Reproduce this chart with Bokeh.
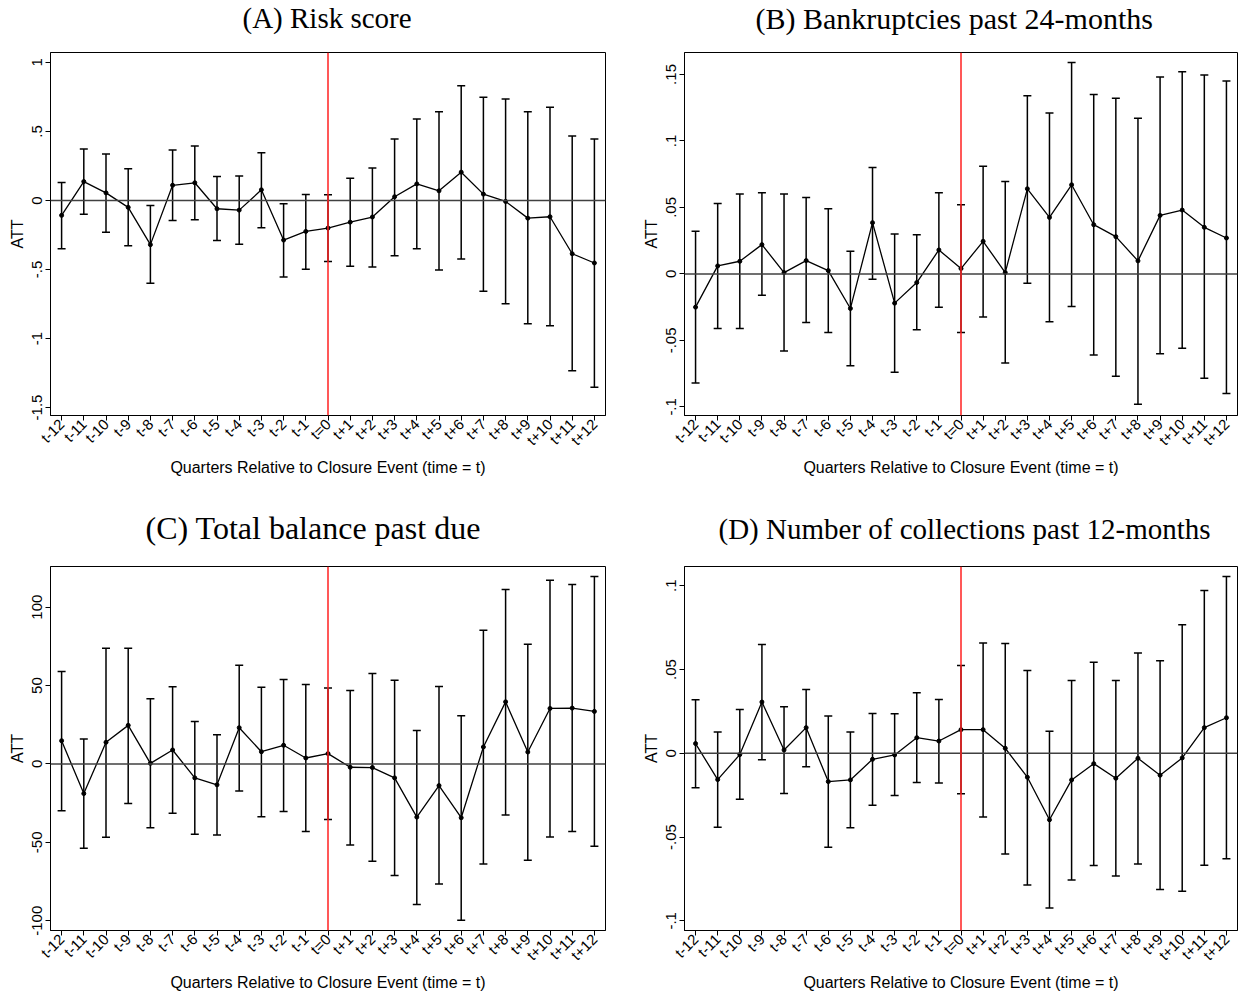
import numpy as np
from bokeh.plotting import figure
from bokeh.models import ColumnDataSource, Whisker, TeeHead, Span, FixedTicker, Range1d, Title
from bokeh.layouts import column, row
from bokeh.embed import file_html
from bokeh.resources import INLINE

# ---------------- data ----------------
quarters = list(range(-12, 13))
quarter_labels = ["t-12", "t-11", "t-10", "t-9", "t-8", "t-7", "t-6", "t-5", "t-4", "t-3", "t-2", "t-1",
                  "t=0", "t+1", "t+2", "t+3", "t+4", "t+5", "t+6", "t+7", "t+8", "t+9", "t+10", "t+11", "t+12"]

# (A) Risk score
risk_att = [-0.108, 0.137, 0.055, -0.050, -0.320, 0.110, 0.128, -0.060, -0.070, 0.077, -0.287, -0.224,
            -0.200, -0.157, -0.120, 0.027, 0.120, 0.070, 0.205, 0.046, -0.007, -0.128, -0.118, -0.386, -0.453]
risk_hi = [0.130, 0.373, 0.337, 0.229, -0.036, 0.366, 0.395, 0.173, 0.178, 0.345, -0.024, 0.043,
           0.041, 0.161, 0.236, 0.446, 0.590, 0.643, 0.831, 0.747, 0.735, 0.643, 0.675, 0.467, 0.446]
risk_lo = [-0.350, -0.100, -0.230, -0.328, -0.600, -0.145, -0.140, -0.290, -0.318, -0.198, -0.554, -0.499,
           -0.443, -0.477, -0.482, -0.400, -0.349, -0.504, -0.424, -0.658, -0.749, -0.894, -0.908, -1.234, -1.354]

# (B) Bankruptcies past 24-months
bank_att = [-0.025, 0.006, 0.0095, 0.022, 0.001, 0.010, 0.0025, -0.026, 0.0385, -0.022, -0.0065, 0.018,
            0.004, 0.0245, 0.001, 0.064, 0.0425, 0.067, 0.037, 0.028, 0.0098, 0.044, 0.048, 0.035, 0.027]
bank_hi = [0.032, 0.053, 0.060, 0.061, 0.060, 0.0575, 0.049, 0.017, 0.080, 0.030, 0.0295, 0.061,
           0.052, 0.081, 0.0695, 0.134, 0.121, 0.159, 0.135, 0.132, 0.117, 0.148, 0.152, 0.1495, 0.145]
bank_lo = [-0.082, -0.041, -0.041, -0.016, -0.058, -0.0365, -0.044, -0.069, -0.004, -0.074, -0.042, -0.025,
           -0.044, -0.0325, -0.067, -0.007, -0.036, -0.0245, -0.061, -0.077, -0.098, -0.060, -0.056, -0.0785, -0.090]

# (C) Total balance past due
bal_att = [14.8, -18.9, 13.8, 24.6, 0.4, 8.9, -8.9, -13.3, 23.1, 7.8, 11.9, 3.8,
           6.6, -2.1, -2.3, -8.9, -33.9, -13.8, -34.3, 10.8, 39.6, 7.6, 35.4, 35.6, 33.5]
bal_hi = [58.9, 15.9, 73.7, 73.7, 41.5, 49.2, 27.1, 18.6, 62.9, 48.9, 53.8, 50.6,
          48.5, 46.8, 57.6, 53.4, 21.4, 49.4, 30.7, 85.2, 111.2, 76.3, 117.2, 114.4, 119.5]
bal_lo = [-29.9, -53.8, -46.8, -25.2, -40.7, -31.4, -44.9, -45.3, -17.2, -33.7, -30.3, -43.0,
          -35.4, -51.7, -62.1, -71.2, -89.6, -76.5, -99.6, -63.8, -32.6, -61.4, -46.6, -43.0, -52.5]

# (D) Number of collections past 12-months
coll_att = [0.0058, -0.0157, -0.0008, 0.0306, 0.0020, 0.0153, -0.0169, -0.0159, -0.0036, -0.0010, 0.0093, 0.0073,
            0.0141, 0.0141, 0.0030, -0.0143, -0.0397, -0.0159, -0.0062, -0.0149, -0.0030, -0.0131, -0.0028, 0.0153, 0.0212]
coll_hi = [0.0320, 0.0127, 0.0262, 0.0650, 0.0278, 0.0380, 0.0222, 0.0127, 0.0238, 0.0236, 0.0361, 0.0321,
           0.0524, 0.0659, 0.0655, 0.0494, 0.0131, 0.0435, 0.0544, 0.0435, 0.0599, 0.0552, 0.0768, 0.0972, 0.1056]
coll_lo = [-0.0206, -0.0442, -0.0274, -0.0038, -0.0240, -0.0081, -0.0561, -0.0444, -0.0310, -0.0252, -0.0175, -0.0177,
           -0.0242, -0.0381, -0.0601, -0.0786, -0.0923, -0.0756, -0.0670, -0.0732, -0.0661, -0.0813, -0.0823, -0.0669, -0.0629]

titles = ["(A) Risk score", "(B) Bankruptcies past 24-months",
          "(C) Total balance past due", "(D) Number of collections past 12-months"]

risk_ticks = [-1.5, -1, -0.5, 0, 0.5, 1]
risk_tick_labels = ["-1.5", "-1", "-.5", "0", ".5", "1"]
bank_ticks = [-0.1, -0.05, 0, 0.05, 0.1, 0.15]
bank_tick_labels = ["-.1", "-.05", "0", ".05", ".1", ".15"]
bal_ticks = [-100, -50, 0, 50, 100]
bal_tick_labels = ["-100", "-50", "0", "50", "100"]
coll_ticks = [-0.1, -0.05, 0, 0.05, 0.1]
coll_tick_labels = ["-.1", "-.05", "0", ".05", ".1"]

x_label = "Quarters Relative to Closure Event (time = t)"
y_label = "ATT"

SANS = "Liberation Sans"
SERIF = "Liberation Serif"


def make_panel(title, att, lo, hi, yr, ticks, tick_labels, width, height, bl, br, bt, bb,
               title_offset, title_size, spacer_size, title_standoff):
    src = ColumnDataSource(dict(x=quarters, y=att, lo=lo, hi=hi))
    p = figure(width=width, height=height, x_range=Range1d(-12.5, 12.5), y_range=Range1d(*yr),
               output_backend="svg", toolbar_location=None,
               min_border_left=bl, min_border_right=br, min_border_top=bt, min_border_bottom=bb)
    p.title.visible = False
    # spacer between frame and title, then the title itself
    p.add_layout(Title(text=" ", text_font_size=spacer_size, text_font=SERIF, standoff=0), "above")
    p.add_layout(Title(text=title, text_font=SERIF, text_font_size=title_size, text_font_style="normal",
                       text_color="black", align="left", offset=title_offset,
                       standoff=title_standoff), "above")

    p.xgrid.visible = False
    p.ygrid.visible = False
    p.outline_line_color = "black"
    p.outline_line_width = 1
    p.outline_line_alpha = 1
    p.background_fill_color = "white"
    p.border_fill_color = "white"

    # reference lines
    p.add_layout(Span(location=0, dimension="width", line_color="#404040", line_width=1.5))
    p.add_layout(Span(location=0, dimension="height", line_color="#ff2020", line_width=1.5))

    # error bars
    wh = Whisker(source=src, base="x", upper="hi", lower="lo", line_color="black", line_width=1.5,
                 upper_head=TeeHead(size=8, line_color="black", line_width=1.5),
                 lower_head=TeeHead(size=8, line_color="black", line_width=1.5))
    p.add_layout(wh)
    p.line("x", "y", source=src, line_color="black", line_width=1.3)
    p.scatter("x", "y", source=src, size=4, color="black")

    # x axis
    xa = p.xaxis[0]
    xa.ticker = FixedTicker(ticks=quarters)
    xa.major_label_overrides = {q: lab for q, lab in zip(quarters, quarter_labels)}
    xa.major_label_orientation = np.pi / 4
    xa.major_label_text_font = SANS
    xa.major_label_text_font_size = "15px"
    xa.major_label_text_color = "black"
    xa.major_tick_in = 0
    xa.major_tick_out = 5
    xa.minor_tick_line_color = None
    xa.axis_line_color = "black"
    xa.major_tick_line_color = "black"
    xa.axis_label = x_label
    xa.axis_label_text_font = SANS
    xa.axis_label_text_font_size = "16px"
    xa.axis_label_text_font_style = "normal"
    xa.axis_label_text_color = "black"
    xa.axis_label_standoff = 2
    xa.major_label_standoff = 1

    # y axis
    ya = p.yaxis[0]
    ya.ticker = FixedTicker(ticks=ticks)
    ya.major_label_overrides = {t: lab for t, lab in zip(ticks, tick_labels)}
    ya.major_label_orientation = "vertical"
    ya.major_label_text_font = SANS
    ya.major_label_text_font_size = "15px"
    ya.major_label_text_color = "black"
    ya.major_tick_in = 0
    ya.major_tick_out = 5
    ya.minor_tick_line_color = None
    ya.axis_line_color = "black"
    ya.major_tick_line_color = "black"
    ya.axis_label = y_label
    ya.axis_label_text_font = SANS
    ya.axis_label_text_font_size = "16px"
    ya.axis_label_text_font_style = "normal"
    ya.axis_label_text_color = "black"
    ya.axis_label_standoff = 4
    ya.major_label_standoff = 3
    return p


pA = make_panel(titles[0], risk_att, risk_lo, risk_hi, (-1.558, 1.072), risk_ticks, risk_tick_labels,
                620, 497, 50, 15, 52, 82, 192, "29px", "18px", -6)
pB = make_panel(titles[1], bank_att, bank_lo, bank_hi, (-0.1065, 0.1665), bank_ticks, bank_tick_labels,
                619, 497, 64, 2, 52, 82, 71, "30px", "17px", -6)
pC = make_panel(titles[2], bal_att, bal_lo, bal_hi, (-106.2, 125.9), bal_ticks, bal_tick_labels,
                620, 497, 50, 15, 69, 63, 95, "32px", "17px", 0)
pD = make_panel(titles[3], coll_att, coll_lo, coll_hi, (-0.1058, 0.1115), coll_ticks, coll_tick_labels,
                619, 497, 64, 2, 69, 63, 34, "29px", "18px", 0)

layout = column(row(pA, pB), row(pC, pD))
open("out.html", "w").write(file_html(layout, INLINE))
